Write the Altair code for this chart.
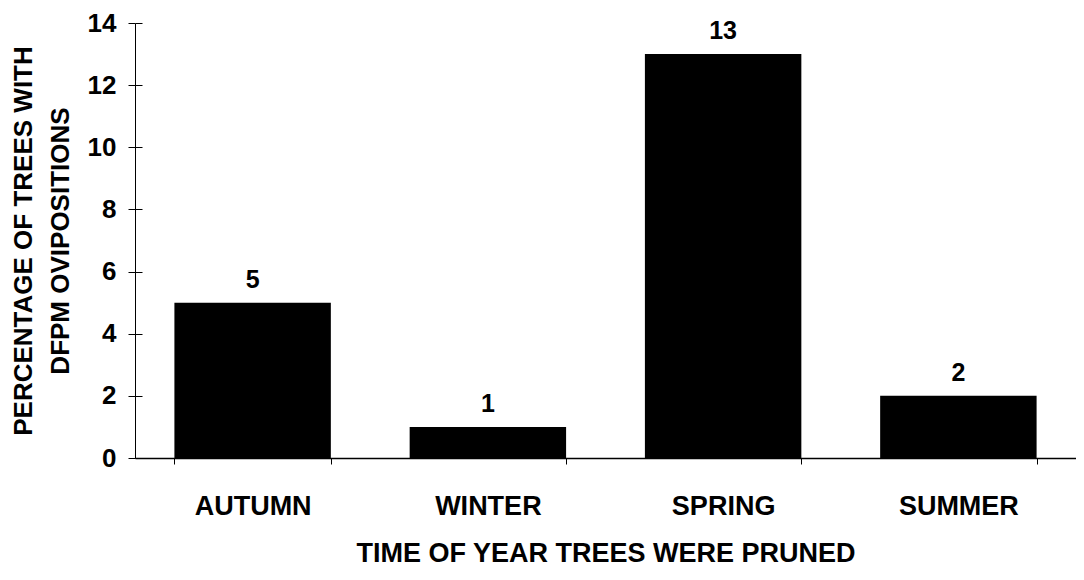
import altair as alt
import pandas as pd

seasons = ["AUTUMN", "WINTER", "SPRING", "SUMMER"]
percent = [5, 1, 13, 2]
value_labels = ["5", "1", "13", "2"]

df = pd.DataFrame({"season": seasons, "pct": percent, "lbl": value_labels})

FONT = "Liberation Sans"
W, H = 941, 435

x_enc = alt.X(
    "season:N",
    sort=seasons,
    scale=alt.Scale(paddingInner=0.335, paddingOuter=0.1675),
    axis=alt.Axis(
        title="TIME OF YEAR TREES WERE PRUNED",
        labelAngle=0,
        labelFont=FONT,
        labelFontSize=27,
        labelFontWeight="bold",
        labelColor="black",
        labelPadding=29,
        tickBand="extent",
        tickSize=6,
        tickColor="black",
        tickWidth=1,
        domainColor="black",
        domainWidth=1.5,
        titleFont=FONT,
        titleFontSize=27,
        titleFontWeight="bold",
        titleColor="black",
        titlePadding=21,
    ),
)

y_scale = alt.Scale(domain=[0, 14], nice=False)

bars = alt.Chart(df).mark_bar(color="black").encode(
    x=x_enc,
    y=alt.Y(
        "pct:Q",
        scale=y_scale,
        axis=alt.Axis(
            title=["PERCENTAGE OF TREES WITH", "DFPM OVIPOSITIONS"],
            values=[0, 2, 4, 6, 8, 10, 12, 14],
            grid=False,
            labelFont=FONT,
            labelFontSize=26,
            labelFontWeight="bold",
            labelColor="black",
            labelPadding=12,
            tickSize=7,
            tickColor="black",
            tickWidth=1,
            domainColor="black",
            domainWidth=1,
            titleFont=FONT,
            titleFontSize=26,
            titleFontWeight="bold",
            titleColor="black",
            titleLineHeight=37,
            titlePadding=14,
        ),
    ),
)

text = alt.Chart(df).mark_text(
    font=FONT, fontSize=25, fontWeight="bold", color="black", baseline="bottom", dy=-10
).encode(
    x=alt.X("season:N", sort=seasons),
    y=alt.Y(
        "pct:Q",
        scale=y_scale,
        axis=alt.Axis(
            orient="right",
            offset=-W,
            values=[0, 2, 4, 6, 8, 10, 12, 14],
            labels=False,
            domain=False,
            grid=False,
            title=None,
            tickSize=7,
            tickColor="black",
            tickWidth=1,
        ),
    ),
    text="lbl:N",
)

chart = (
    alt.layer(bars, text)
    .resolve_axis(y="independent")
    .properties(
        width=W,
        height=H,
        autosize=alt.AutoSizeParams(type="none"),
        padding={"left": 127, "top": 15, "right": 0, "bottom": 114},
        background="white",
    )
    .configure_view(stroke=None)
)

chart.save("out.html", embed_options={"renderer": "svg", "actions": False})
